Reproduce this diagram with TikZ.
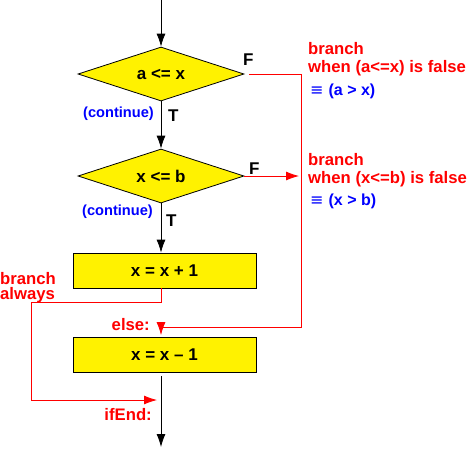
\documentclass[tikz,border=0pt]{standalone}
\usepackage{fontspec}
\setmainfont{Liberation Sans}
\newfontfamily\symfont{DejaVu Sans}
\usetikzlibrary{shapes.geometric,arrows.meta}
\begin{document}
\begin{tikzpicture}[x=1pt,y=-1pt,
  dia/.style={diamond,draw=black,line width=0.8pt,fill=yellow,minimum width=166pt,minimum height=54pt,inner sep=0pt,aspect=3,font=\bfseries\fontsize{17}{18}\selectfont},
  box/.style={rectangle,draw=black,line width=0.8pt,fill=yellow,minimum width=183pt,minimum height=35pt,inner sep=0pt,font=\bfseries\fontsize{17}{18}\selectfont},
  flow/.style={draw=black,line width=0.8pt,-{Latex[length=13pt,width=9pt]}},
  rline/.style={draw=red,line width=0.8pt},
  rflow/.style={draw=red,line width=0.8pt,-{Latex[length=13pt,width=9pt]}},
  btxt/.style={inner sep=0pt,font=\bfseries\fontsize{17}{18}\selectfont},
  rtxt/.style={inner sep=0pt,text=red,font=\bfseries\fontsize{16.7}{18}\selectfont},
  ctxt/.style={inner sep=0pt,text=blue,font=\bfseries\fontsize{14.6}{18}\selectfont},
  etxt/.style={inner sep=0pt,text=blue,font=\bfseries\fontsize{16}{18}\selectfont}]
\useasboundingbox (0,0) rectangle (474,448);
\node[dia] (d1) at (161,74) {a <= x};
\node[dia] (d2) at (161,176) {x <= b};
\node[box] (b1) at (164.5,270.5) {x = x + 1};
\node[box] (b2) at (164.5,354.5) {x = x – 1};
\coordinate (top) at (161,0);
\coordinate (bot) at (161,447);
\draw[flow] (top) -- (d1.north);
\draw[flow] (d1.south) -- (d2.north);
\draw[flow] (d2.south) -- (d2.south |- b1.north);
\draw[flow,shorten <=4pt] (d2.south |- b2.south) -- (bot);
% red branches
\coordinate (r1) at (301,74);
\coordinate (r2) at (301,327);
\coordinate (elsej) at (161,327);
\draw[rline] ([xshift=5pt]d1.east) -- (r1) -- (r2) -- (elsej);
\draw[rflow,shorten >=1.5pt] (elsej) -- (elsej |- b2.north);
\coordinate (fx) at (299,176);
\draw[rflow] (d2.east) -- (fx);
\coordinate (a1) at (31,302);
\coordinate (a2) at (31,400);
\coordinate (ifj) at (157,400);
\draw[rflow] (d2.south |- b1.south) -- (d2.south |- a1) -- (a1) -- (a2) -- (ifj);
% labels
\node[btxt,anchor=base west] (f1) at (243,65) {F};
\node[btxt,anchor=base west] (f2) at (249,174) {F};
\node[btxt,anchor=base west] (t1) at (168,121) {T};
\node[btxt,anchor=base west] (t2) at (166,226) {T};
\node[ctxt,anchor=base east] (c1) at (154,117) {(continue)};
\node[ctxt,anchor=base east] (c2) at (153,215) {(continue)};
\node[rtxt,anchor=base west] (n1a) at (308,54) {branch};
\node[rtxt,anchor=base west] (n1b) at (308,72) {when (a<=x) is false};
\node[etxt,anchor=base west] (e1) at (310,95) {{\symfont\mdseries ≡}\hspace{5pt}(a > x)};
\node[rtxt,anchor=base west] (n2a) at (308,165) {branch};
\node[rtxt,anchor=base west] (n2b) at (308,183) {when (x<=b) is false};
\node[etxt,anchor=base west] (e2) at (310,205) {{\symfont\mdseries ≡}\hspace{5pt}(x > b)};
\node[rtxt,align=left,anchor=base west,font=\bfseries\fontsize{16.7}{14.5}\selectfont] (ba) at (0,299) {branch\\always};
\node[rtxt,anchor=base east] (el) at (150,330) {else:};
\node[rtxt,anchor=base east] (ie) at (152,420) {ifEnd:};
\end{tikzpicture}
\end{document}
